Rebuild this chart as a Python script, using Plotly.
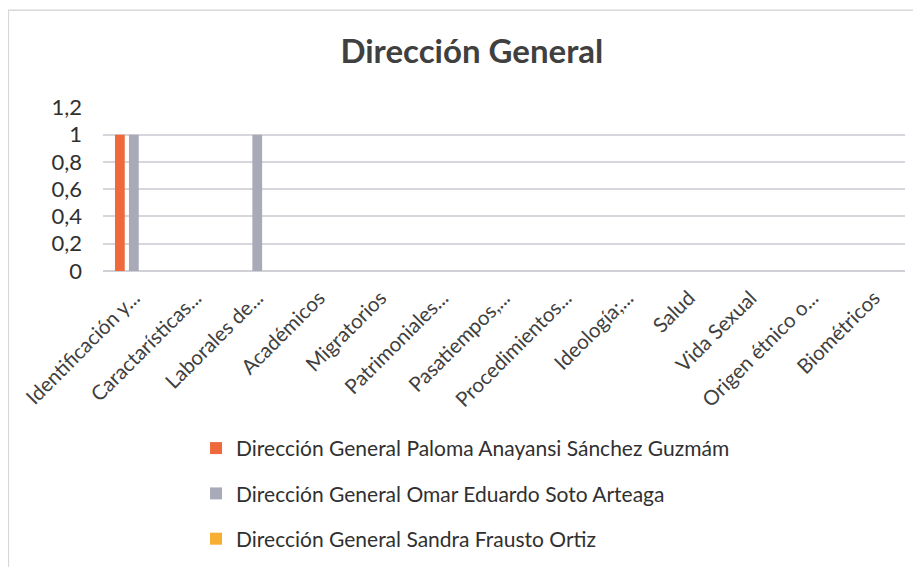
import plotly.graph_objects as go

categories = ["Identificación y...", "Caractarísticas...", "Laborales de...", "Académicos",
              "Migratorios", "Patrimoniales...", "Pasatiempos,...", "Procedimientos...",
              "Ideología;...", "Salud", "Vida Sexual", "Origen étnico o...", "Biométricos"]
series_names = ["Dirección General Paloma Anayansi Sánchez Guzmám",
                "Dirección General Omar Eduardo Soto Arteaga",
                "Dirección General Sandra Frausto Ortiz"]
paloma = [1, 0, 0, 0, 0, 0, 0, 0, 0, 0, 0, 0, 0]
omar = [1, 0, 1, 0, 0, 0, 0, 0, 0, 0, 0, 0, 0]
sandra = [0, 0, 0, 0, 0, 0, 0, 0, 0, 0, 0, 0, 0]
y_ticks = [0, 0.2, 0.4, 0.6, 0.8, 1, 1.2]

colors = ["#EE6A3C", "#A9AAB8", "#F8AE32"]
font_family = "Lato, 'Open Sans', sans-serif"

fig = go.Figure()
for i, (name, vals) in enumerate(zip(series_names, [paloma, omar, sandra])):
    fig.add_trace(go.Bar(x=categories, y=vals, name=name, marker_color=colors[i],
                         marker_line_width=0, legendgroup=f"g{i}"))

# page body has an 8px margin, so the figure is 913x559 placed at (8, 8)
fig.update_layout(
    width=913, height=559,
    paper_bgcolor="white", plot_bgcolor="white",
    separators=",.",
    margin=dict(l=95, r=16, t=99, b=296, autoexpand=False),
    title=dict(text="<b>Dirección General</b>", x=0.508, xanchor="center", y=0.922, yanchor="middle",
               font=dict(family=font_family, size=33, color="#404040")),
    barmode="group", bargap=0.32, bargroupgap=0.3,
    font=dict(family=font_family, size=21, color="#404040"),
    legend=dict(x=0.116, xanchor="left", y=-0.957, yanchor="top", orientation="v",
                bgcolor="rgba(0,0,0,0)",
                font=dict(size=21, color="#303030"), tracegroupgap=15,
                itemwidth=30),
    showlegend=True,
)
fig.update_xaxes(tickangle=-45, showgrid=False, showline=False, ticks="",
                 ticklabelstandoff=10, automargin=False,
                 tickfont=dict(size=20.5, color="#404040"))
fig.update_yaxes(range=[0, 1.203], tickvals=y_ticks, showgrid=True, gridcolor="#D6D6DC",
                 gridwidth=1.5, zeroline=True, zerolinecolor="#D0D0D6", zerolinewidth=1.5,
                 ticks="", ticklabelstandoff=20, automargin=False,
                 tickfont=dict(size=22, color="#303030"))
fig.add_shape(type="rect", xref="paper", yref="paper", x0=-0.118, x1=1.2, y0=-2.5, y1=1.59,
              line=dict(color="#D8D8D8", width=1.5))

fig.write_html("out.html")
